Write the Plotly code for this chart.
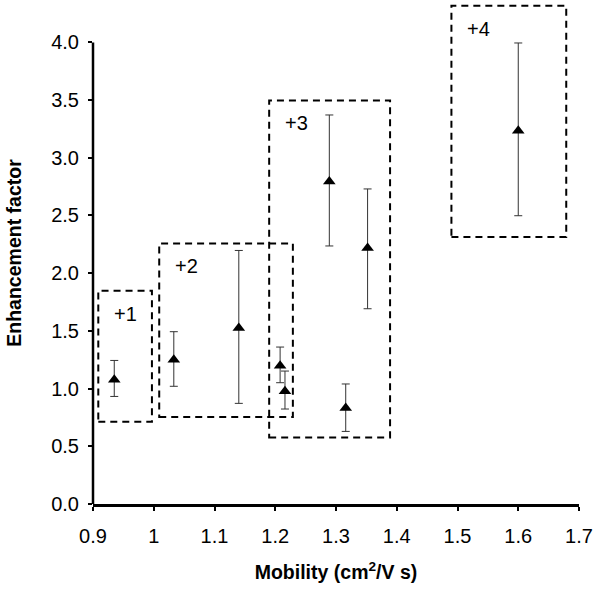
import plotly.graph_objects as go

# Data points (mobility, enhancement factor, error bar ends)
mobility = [0.935, 1.033, 1.140, 1.208, 1.216, 1.316, 1.289, 1.352, 1.600]
enhancement = [1.077, 1.25, 1.525, 1.198, 0.976, 0.832, 2.795, 2.218, 3.235]
err_top = [1.244, 1.493, 2.197, 1.36, 1.152, 1.04, 3.371, 2.73, 3.995]
err_bottom = [0.932, 1.02, 0.872, 1.051, 0.823, 0.629, 2.236, 1.692, 2.498]

# Charge-state groups (dashed boxes)
group_labels = ["+1", "+2", "+3", "+4"]
group_x_min = [0.9087, 1.009, 1.190, 1.490]
group_x_max = [0.997, 1.229, 1.389, 1.679]
group_y_min = [0.713, 0.754, 0.577, 2.314]
group_y_max = [1.848, 2.258, 3.497, 4.318]

x_ticks = [0.9, 1.0, 1.1, 1.2, 1.3, 1.4, 1.5, 1.6, 1.7]
x_tick_text = ["0.9", "1", "1.1", "1.2", "1.3", "1.4", "1.5", "1.6", "1.7"]
y_ticks = [0.0, 0.5, 1.0, 1.5, 2.0, 2.5, 3.0, 3.5, 4.0]
y_tick_text = ["0.0", "0.5", "1.0", "1.5", "2.0", "2.5", "3.0", "3.5", "4.0"]

FONT = "Liberation Sans, Arial, sans-serif"

err_plus = [t - v for t, v in zip(err_top, enhancement)]
err_minus = [v - b for v, b in zip(enhancement, err_bottom)]

fig = go.Figure()
fig.add_trace(go.Scatter(
    x=mobility, y=enhancement, mode="markers",
    marker=dict(symbol="triangle-up", size=11, color="black"),
    error_y=dict(type="data", symmetric=False, array=err_plus, arrayminus=err_minus,
                 color="#333333", thickness=1, width=4),
    showlegend=False, cliponaxis=False, hoverinfo="skip",
))

shapes = []
annotations = []
for lab, x0, x1, y0, y1 in zip(group_labels, group_x_min, group_x_max, group_y_min, group_y_max):
    shapes.append(dict(type="rect", xref="x", yref="y", x0=x0, x1=x1, y0=y0, y1=y1,
                       line=dict(color="black", width=2, dash="7px,5px"),
                       fillcolor="rgba(0,0,0,0)"))
    annotations.append(dict(x=x0, y=y1, xref="x", yref="y", text=lab, showarrow=False,
                            xshift=27, yshift=-23, xanchor="center", yanchor="middle",
                            font=dict(family=FONT, size=20, color="black")))

# y-axis line stopping at 4.0
shapes.append(dict(type="line", xref="paper", yref="y", x0=0, x1=0, y0=0, y1=4.0,
                   line=dict(color="black", width=2.5)))

fig.update_layout(
    width=603, height=592,
    margin=dict(l=93, r=24, t=2, b=88),
    plot_bgcolor="white", paper_bgcolor="white",
    shapes=shapes, annotations=annotations,
    font=dict(family=FONT, color="black"),
    xaxis=dict(range=[0.9, 1.7], tickvals=x_ticks, ticktext=x_tick_text,
               showgrid=False, zeroline=False, showline=True, linecolor="black", linewidth=2.5,
               ticks="outside", ticklen=4, tickwidth=2, tickcolor="black",
               ticklabelstandoff=8,
               tickfont=dict(family=FONT, size=20, color="black"),
               title=dict(text="<b>Mobility (cm<sup>2</sup>/V s)</b>",
                          font=dict(family=FONT, size=19.5, color="black"), standoff=20)),
    yaxis=dict(range=[0, 4.35], tickvals=y_ticks, ticktext=y_tick_text,
               showgrid=False, zeroline=False, showline=False,
               ticks="outside", ticklen=4, tickwidth=2, tickcolor="black",
               ticklabelstandoff=5,
               tickfont=dict(family=FONT, size=20, color="black"),
               title=dict(text="<b>Enhancement factor</b>",
                          font=dict(family=FONT, size=19.5, color="black"), standoff=24)),
)

fig.write_html("out.html", config={"displayModeBar": False},
               post_script="document.body.style.margin='0';")
